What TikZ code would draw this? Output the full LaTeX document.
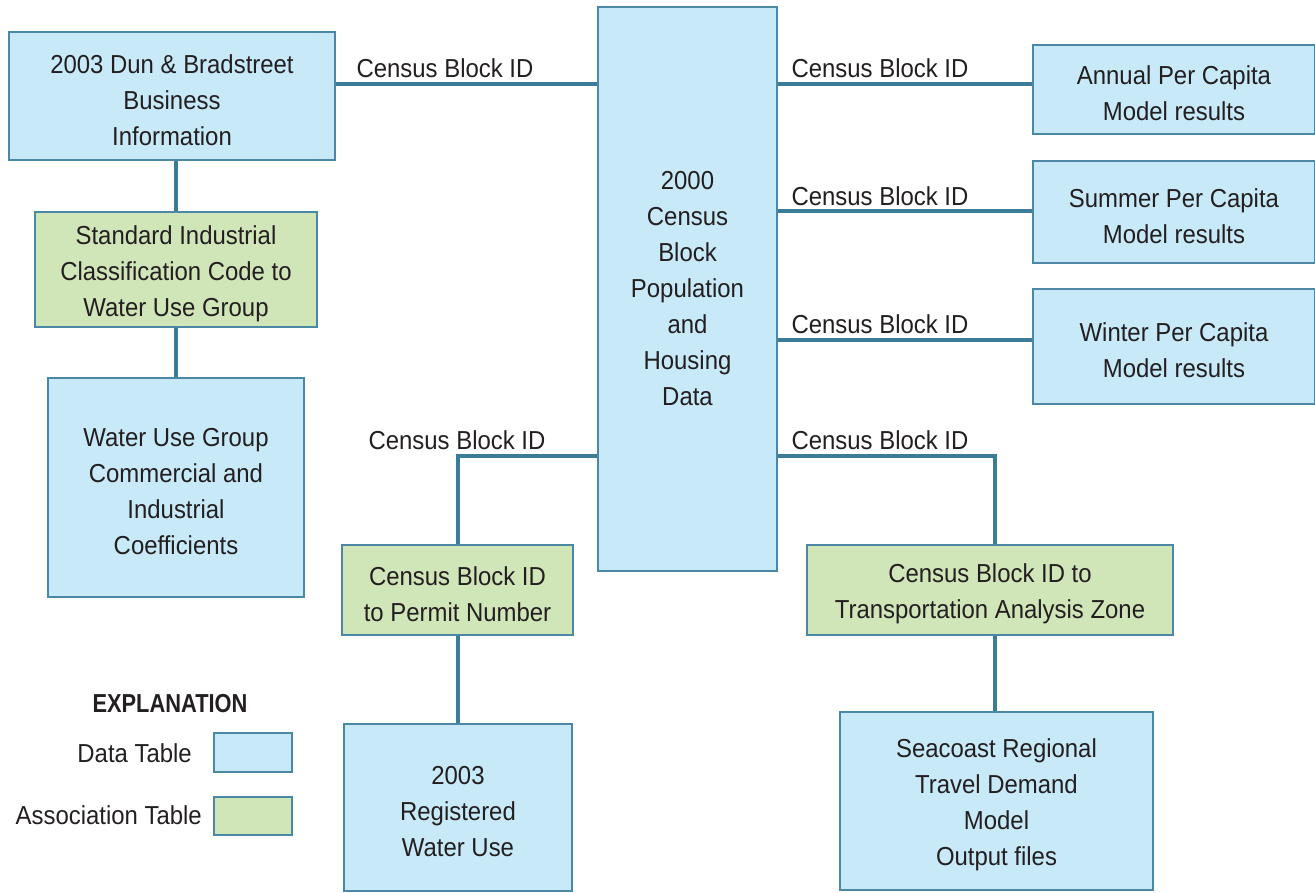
\documentclass[tikz,border=0pt]{standalone}
\usepackage{fontspec}
\setmainfont{Liberation Sans}[FakeStretch=0.92]
\newfontfamily\explfont{Liberation Sans}[FakeStretch=0.84]
\newcommand\tstr{\rule{0pt}{27pt}}
\definecolor{datafill}{HTML}{C7E9F8}
\definecolor{assocfill}{HTML}{D0E5B8}
\definecolor{edge}{HTML}{4A88A6}
\definecolor{link}{HTML}{3B7D98}
\definecolor{ink}{HTML}{231F20}
\tikzset{
  tab/.style={draw=edge, line width=1.6pt, rectangle, align=center, text=ink,
    font=\fontsize{26}{36}\selectfont, inner sep=0pt},
  datatab/.style={tab, fill=datafill},
  assoctab/.style={tab, fill=assocfill},
  conn/.style={draw=link, line width=4.2pt},
  lbl/.style={text=ink, font=\fontsize{26}{30}\selectfont, inner sep=0pt}
}
\begin{document}
\begin{tikzpicture}[x=1pt,y=-1pt]
\useasboundingbox (0,0) rectangle (1315,892);
% data tables
\node[datatab, minimum width=326, minimum height=128] (dun) at (172,96) {\tstr 2003 Dun \& Bradstreet\\Business\\Information};
\node[assoctab, minimum width=282, minimum height=115] (sic) at (176,269.5) {\tstr Standard Industrial\\Classification Code to\\Water Use Group};
\node[datatab, minimum width=256, minimum height=219] (wug) at (176,487.5) {\tstr Water Use Group\\Commercial and\\Industrial\\Coefficients};
\node[datatab, minimum width=179, minimum height=564] (cen) at (687.5,289) {2000\\Census\\Block\\Population\\and\\Housing\\Data};
\node[datatab, minimum width=282, minimum height=89] (ann) at (1174,89.5) {\tstr Annual Per Capita\\Model results};
\node[datatab, minimum width=282, minimum height=102] (sum) at (1174,212) {\tstr Summer Per Capita\\Model results};
\node[datatab, minimum width=282, minimum height=115] (win) at (1174,346.5) {\tstr Winter Per Capita\\Model results};
\node[assoctab, minimum width=231, minimum height=90] (per) at (457.5,590) {\tstr Census Block ID\\to Permit Number};
\node[datatab, minimum width=228, minimum height=167] (reg) at (458,807.5) {\tstr 2003\\Registered\\Water Use};
\node[assoctab, minimum width=366, minimum height=90] (taz) at (990,590) {\tstr Census Block ID to\\Transportation Analysis Zone};
\node[datatab, minimum width=313, minimum height=178] (sea) at (996.5,801) {\tstr Seacoast Regional\\Travel Demand\\Model\\Output files};
% connectors
\coordinate (pl) at (458,456);
\coordinate (tl) at (995,456);
\draw[conn] (dun.east |- 0,84) -- (cen.west |- 0,84);
\draw[conn] (cen.east |- 0,84) -- (ann.west |- 0,84);
\draw[conn] (cen.east |- 0,211) -- (sum.west |- 0,211);
\draw[conn] (cen.east |- 0,340) -- (win.west |- 0,340);
\draw[conn] (cen.west |- pl) -- (pl) -- (pl |- per.north);
\draw[conn] (cen.east |- tl) -- (tl) -- (tl |- taz.north);
\draw[conn] (dun.south -| 176,0) -- (sic.north);
\draw[conn] (sic.south) -- (wug.north);
\draw[conn] (per.south -| pl) -- (reg.north -| pl);
\draw[conn] (taz.south -| tl) -- (sea.north -| tl);
% labels
\node[lbl] (l1) at (445,68) {Census Block ID};
\node[lbl] (l2) at (880,68) {Census Block ID};
\node[lbl] (l3) at (880,196) {Census Block ID};
\node[lbl] (l4) at (880,324) {Census Block ID};
\node[lbl] (l5) at (457,440) {Census Block ID};
\node[lbl] (l6) at (880,440) {Census Block ID};
% legend
\node[lbl, font=\fontsize{26}{30}\selectfont\explfont\bfseries] (expl) at (170,704) {EXPLANATION};
\node[datatab, minimum width=78, minimum height=39] (ldata) at (253,752.5) {};
\node[assoctab, minimum width=78, minimum height=38] (lassoc) at (253,816) {};
\node[lbl, anchor=east] (tdata) at (192,753) {Data Table};
\node[lbl, anchor=east] (tassoc) at (202,815) {Association Table};
\end{tikzpicture}
\end{document}
